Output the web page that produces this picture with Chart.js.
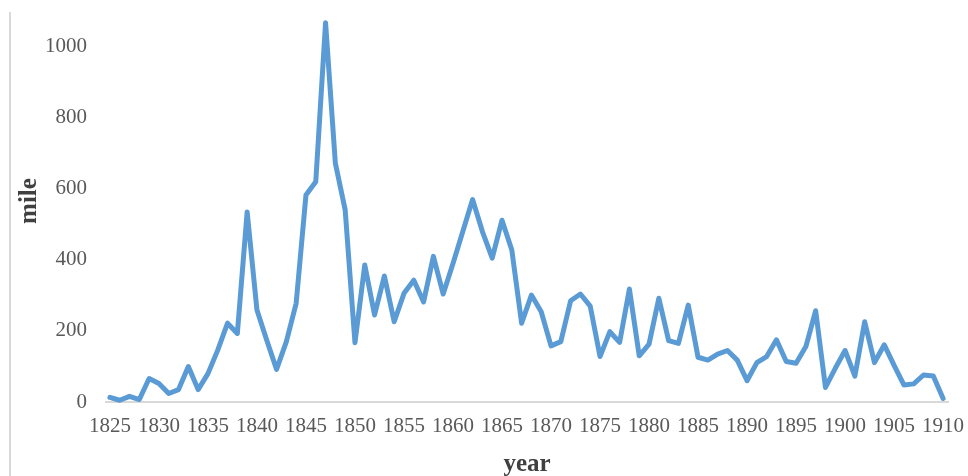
<!DOCTYPE html>
<html>
<head>
<meta charset="utf-8">
<script src="https://cdn.jsdelivr.net/npm/chart.js@4.4.1/dist/chart.umd.min.js"></script>
<style>
    html, body { margin: 0; padding: 0; background: #fff; }
    #wrap { position: relative; width: 968px; height: 476px; }
    #frame { position: absolute; left: 9px; top: 12px; height: 464px; border-left: 2px solid #d9d9d9; }
</style>
</head>
<body>
<div id="wrap">
    <div id="frame"></div>
    <canvas id="miles-chart" width="968" height="476"></canvas>
</div>
<script>
const years = [
    1825, 1826, 1827, 1828, 1829, 1830, 1831, 1832, 1833, 1834,
    1835, 1836, 1837, 1838, 1839, 1840, 1841, 1842, 1843, 1844,
    1845, 1846, 1847, 1848, 1849, 1850, 1851, 1852, 1853, 1854,
    1855, 1856, 1857, 1858, 1859, 1860, 1861, 1862, 1863, 1864,
    1865, 1866, 1867, 1868, 1869, 1870, 1871, 1872, 1873, 1874,
    1875, 1876, 1877, 1878, 1879, 1880, 1881, 1882, 1883, 1884,
    1885, 1886, 1887, 1888, 1889, 1890, 1891, 1892, 1893, 1894,
    1895, 1896, 1897, 1898, 1899, 1900, 1901, 1902, 1903, 1904,
    1905, 1906, 1907, 1908, 1909, 1910
];
const miles = [
    13, 5, 16, 7, 66, 52, 24, 35, 100, 35,
    80, 146, 222, 193, 535, 259, 174, 92, 170, 278,
    583, 620, 1068, 672, 541, 167, 386, 245, 355, 226,
    306, 343, 282, 410, 304, 390, 480, 570, 480, 405,
    512, 428, 222, 301, 254, 158, 170, 285, 304, 270,
    128, 198, 168, 318, 130, 163, 292, 173, 165, 273,
    126, 118, 135, 145, 118, 60, 111, 128, 175, 114,
    109, 156, 257, 41, 95, 145, 73, 226, 111, 161,
    103, 48, 51, 76, 73, 10
];
const yearTicks = [1825, 1830, 1835, 1840, 1845, 1850, 1855, 1860, 1865, 1870, 1875, 1880, 1885, 1890, 1895, 1900, 1905, 1910];
const mileTicks = [0, 200, 400, 600, 800, 1000];

const serif = 'Liberation Serif';

(async function() {
    window.milesChart = new Chart(
        document.getElementById('miles-chart'),
        {
            type: 'line',
            data: {
                datasets: [
                {
                    label: 'mile',
                    data: years.map((yr, i) => ({ x: yr, y: miles[i] })),
                    borderColor: '#5b9bd5',
                    borderWidth: 5,
                    borderJoinStyle: 'round',
                    borderCapStyle: 'round',
                    pointRadius: 0,
                    tension: 0,
                    clip: false
                }
                ]
            },
            options: {
                responsive: false,
                animation: false,
                layout: { padding: { left: 0, right: 20, top: 0, bottom: 0 } },
                plugins: {
                    legend: { display: false },
                    tooltip: { enabled: false }
                },
                scales: {
                    x: {
                        type: 'linear',
                        min: 1824.6,
                        max: 1910.5,
                        grid: { display: false, drawTicks: false },
                        border: { display: true, color: '#d9d9d9', width: 2 },
                        afterBuildTicks: scale => {
                            scale.ticks = yearTicks.map(v => ({ value: v }));
                        },
                        afterFit: scale => {
                            scale.height = 74;
                            scale.paddingLeft = 0;
                            scale.paddingRight = 0;
                        },
                        ticks: {
                            autoSkip: false,
                            maxRotation: 0,
                            padding: 12,
                            color: '#595959',
                            font: { family: serif, size: 21 },
                            callback: v => String(v)
                        },
                        title: {
                            display: true,
                            text: 'year',
                            color: '#404040',
                            padding: { top: 0, bottom: -4 },
                            font: { family: serif, size: 25, weight: 'bold' }
                        }
                    },
                    y: {
                        min: 0,
                        max: 1132,
                        grid: { display: false, drawTicks: false },
                        border: { display: false },
                        afterBuildTicks: scale => {
                            scale.ticks = mileTicks.map(v => ({ value: v }));
                        },
                        afterFit: scale => {
                            scale.width = 106;
                            scale.paddingTop = 0;
                            scale.paddingBottom = 0;
                        },
                        ticks: {
                            padding: 19,
                            color: '#595959',
                            font: { family: serif, size: 21 },
                            callback: v => String(v)
                        },
                        title: {
                            display: true,
                            text: 'mile',
                            color: '#404040',
                            padding: { top: 15, bottom: 0 },
                            font: { family: serif, size: 25, weight: 'bold' }
                        }
                    }
                }
            }
        }
    );
})();
</script>
</body>
</html>
